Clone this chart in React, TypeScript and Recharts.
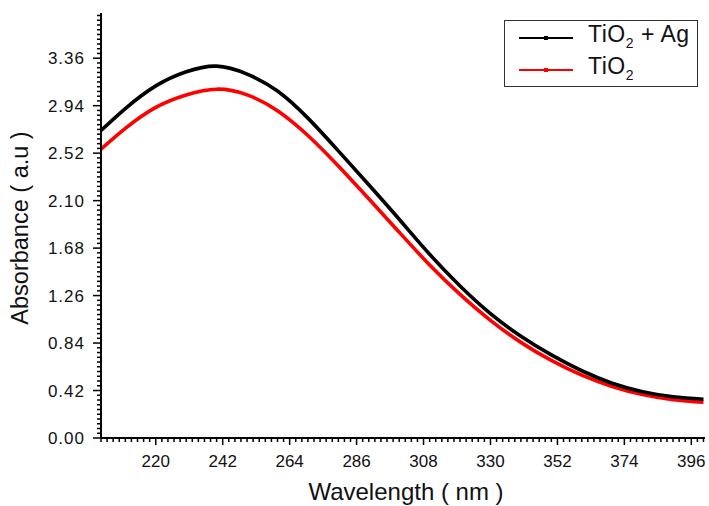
import { LineChart, Line, XAxis, YAxis, Legend } from 'recharts'

// wavelength (nm) and absorbance
const wavelength = [202, 210, 220, 230, 240, 250, 260, 270, 280, 290, 300, 310, 320, 330, 340, 350, 360, 370, 380, 390, 400]
const tio2Ag = [2.72, 2.915, 3.115, 3.24, 3.29, 3.22, 3.07, 2.83, 2.54, 2.24, 1.935, 1.625, 1.345, 1.1, 0.9, 0.735, 0.595, 0.485, 0.41, 0.365, 0.343]
const tio2 = [2.555, 2.74, 2.925, 3.035, 3.086, 3.036, 2.896, 2.676, 2.406, 2.116, 1.821, 1.531, 1.271, 1.041, 0.846, 0.686, 0.556, 0.456, 0.384, 0.339, 0.316]

const xMajor = [220, 242, 264, 286, 308, 330, 352, 374, 396]
const yMajor = [0, 0.42, 0.84, 1.26, 1.68, 2.1, 2.52, 2.94, 3.36]

const X_DOMAIN: [number, number] = [202, 400.5]
const Y_DOMAIN: [number, number] = [0, 3.76]

// minor ticks every 2 nm and every 0.042
const xTicks = Array.from({ length: 100 }, (_, i) => 202 + i * 2)
const yTicks = Array.from({ length: 90 }, (_, i) => +(i * 0.042).toFixed(3))

const data = wavelength.map((w, i) => ({ w, ag: tio2Ag[i], ti: tio2[i] }))

const FONT = '"Liberation Sans", Arial, sans-serif'

function XTick(props: any) {
  const { x, y, payload } = props
  const major = xMajor.includes(payload.value)
  return (
    <g>
      <line x1={x} x2={x} y1={y} y2={y + (major ? 7 : 4)} stroke="#000" strokeWidth={1.5} />
      {major && (
        <text x={x} y={y + 29} textAnchor="middle" fontSize={17} fontFamily={FONT} fill="#111">
          {payload.value}
        </text>
      )}
    </g>
  )
}

function YTick(props: any) {
  const { x, y, payload } = props
  const major = yMajor.some((m) => Math.abs(m - payload.value) < 1e-6)
  return (
    <g>
      <line x1={x} x2={x - (major ? 8 : 4)} y1={y} y2={y} stroke="#000" strokeWidth={1.5} />
      {major && (
        <text x={x - 16} y={y} dy="0.36em" textAnchor="end" fontSize={17} letterSpacing={1} fontFamily={FONT} fill="#111">
          {payload.value.toFixed(2)}
        </text>
      )}
    </g>
  )
}

function LegendBox() {
  const rows = [
    { color: '#000', label: <>TiO<sub style={{ fontSize: 14 }}>2</sub> + Ag</> },
    { color: '#ff0000', label: <>TiO<sub style={{ fontSize: 14 }}>2</sub></> },
  ]
  return (
    <div
      style={{
        width: 192,
        height: 65,
        border: '1px solid #333',
        background: '#fff',
        fontFamily: FONT,
        fontSize: 23,
        letterSpacing: 0.5,
        color: '#111',
        boxSizing: 'content-box',
      }}
    >
      {rows.map((r, i) => (
        <div key={i} style={{ display: 'flex', alignItems: 'center', height: 32, marginTop: i === 0 ? 1 : 0, lineHeight: '22px' }}>
          <svg width={83} height={12} style={{ flex: 'none' }}>
            <line x1={14} x2={68} y1={6} y2={6} stroke={r.color} strokeWidth={2} />
            <rect x={39} y={4} width={4} height={4} fill={r.color} />
          </svg>
          <span>{r.label}</span>
        </div>
      ))}
    </div>
  )
}

export default function App() {
  return (
    <div style={{ position: 'absolute', left: 0, top: 0, width: 709, height: 506, background: '#fff' }}>
      <LineChart width={709} height={506} data={data} margin={{ top: 13, right: 4, left: 0, bottom: 0 }}>
        <XAxis
          dataKey="w"
          type="number"
          domain={X_DOMAIN}
          allowDataOverflow
          ticks={xTicks}
          interval={0}
          tick={<XTick />}
          tickLine={false}
          tickSize={0}
          tickMargin={0}
          height={68}
          axisLine={{ stroke: '#000', strokeWidth: 2 }}
        />
        <XAxis xAxisId="top" orientation="top" type="number" domain={X_DOMAIN} height={0} tick={false} tickLine={false} axisLine={{ stroke: '#333', strokeWidth: 1 }} />
        <YAxis
          type="number"
          domain={Y_DOMAIN}
          allowDataOverflow
          ticks={yTicks}
          interval={0}
          tick={<YTick />}
          tickLine={false}
          tickSize={0}
          tickMargin={0}
          width={101}
          axisLine={{ stroke: '#000', strokeWidth: 2 }}
        />
        <YAxis yAxisId="right" orientation="right" type="number" domain={Y_DOMAIN} width={0} tick={false} tickLine={false} axisLine={{ stroke: '#333', strokeWidth: 1 }} />
        <Legend
          layout="vertical"
          align="center"
          verticalAlign="middle"
          content={<LegendBox />}
          wrapperStyle={{ position: 'absolute', left: 504, top: 20, width: 194, height: 67 }}
        />
        <Line dataKey="ti" type="natural" stroke="#ff0000" strokeWidth={3.6} dot={false} isAnimationActive={false} />
        <Line dataKey="ag" type="natural" stroke="#000" strokeWidth={3.6} dot={false} isAnimationActive={false} />
      </LineChart>
      <svg width={709} height={506} style={{ position: 'absolute', left: 0, top: 0, pointerEvents: 'none' }}>
        <text x={406} y={500} textAnchor="middle" fontSize={24} fontFamily={FONT} fill="#111">
          Wavelength ( nm )
        </text>
        <text x={28} y={228} textAnchor="middle" fontSize={23.5} fontFamily={FONT} fill="#111" transform="rotate(-90 28 228)">
          Absorbance ( a.u )
        </text>
      </svg>
    </div>
  )
}
